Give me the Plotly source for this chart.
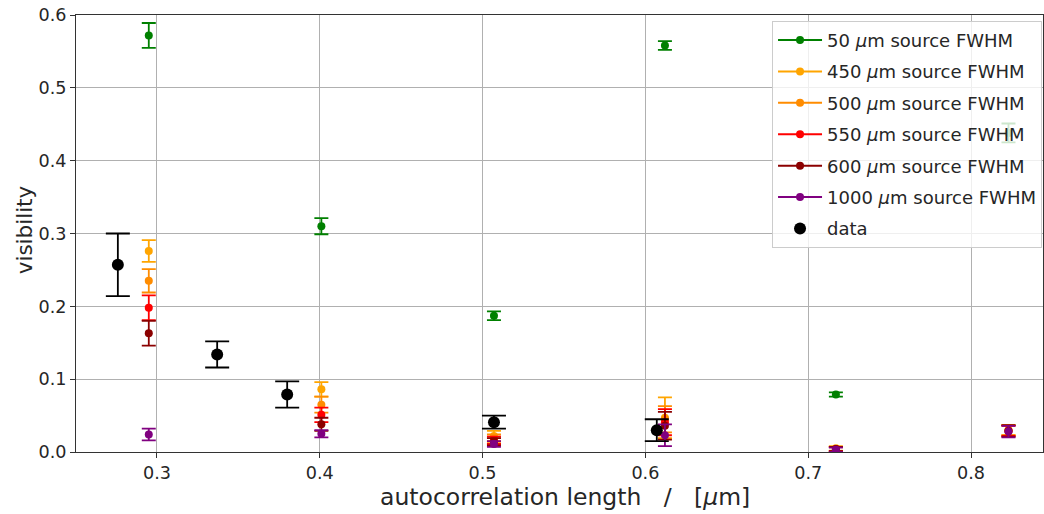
import plotly.graph_objects as go

# ---- data ----
sim_x = [0.295, 0.401, 0.507, 0.612, 0.717, 0.823]

series_names = ["50", "450", "500", "550", "600", "1000"]
series_colors = ["#008000", "#FFA500", "#FF8C00", "#FF0000", "#8B0000", "#800080"]

vis_50 = [0.572, 0.310, 0.187, 0.558, 0.079, 0.438]
err_50 = [0.017, 0.011, 0.006, 0.006, 0.003, 0.013]

vis_450 = [0.276, 0.086, 0.022, 0.047, 0.005, 0.030]
err_450 = [0.015, 0.010, 0.007, 0.028, 0.003, 0.007]

vis_500 = [0.235, 0.065, 0.018, 0.045, 0.004, 0.030]
err_500 = [0.016, 0.011, 0.006, 0.018, 0.003, 0.007]

vis_550 = [0.198, 0.051, 0.016, 0.041, 0.004, 0.029]
err_550 = [0.017, 0.010, 0.005, 0.018, 0.003, 0.007]

vis_600 = [0.163, 0.038, 0.014, 0.036, 0.004, 0.029]
err_600 = [0.017, 0.009, 0.005, 0.019, 0.003, 0.008]

vis_1000 = [0.024, 0.025, 0.011, 0.023, 0.003, 0.028]
err_1000 = [0.008, 0.005, 0.004, 0.015, 0.003, 0.008]

data_x = [0.276, 0.337, 0.380, 0.507, 0.607]
data_vis = [0.257, 0.134, 0.079, 0.041, 0.030]
data_err = [0.043, 0.018, 0.018, 0.009, 0.015]

sim_vis = [vis_50, vis_450, vis_500, vis_550, vis_600, vis_1000]
sim_err = [err_50, err_450, err_500, err_550, err_600, err_1000]

x_ticks = [0.3, 0.4, 0.5, 0.6, 0.7, 0.8]
y_ticks = [0.0, 0.1, 0.2, 0.3, 0.4, 0.5, 0.6]

x_title = "autocorrelation length \u00a0 / \u00a0 [<i>μ</i>m]"
y_title = "visibility"

FONT = "DejaVu Sans, sans-serif"
TXT = "#262626"

fig = go.Figure()

for i, (name, col, v, e) in enumerate(zip(series_names, series_colors, sim_vis, sim_err)):
    fig.add_trace(go.Scatter(
        x=sim_x, y=v, mode="markers",
        marker=dict(color=col, size=8),
        error_y=dict(type="data", array=e, visible=True, color=col, thickness=1.8, width=7),
        showlegend=False, hoverinfo="x+y",
    ))
    # legend entry
    fig.add_trace(go.Scatter(
        x=[None], y=[None], mode="lines+markers",
        marker=dict(color=col, size=8), line=dict(color=col, width=2),
        name=f"{name} <i>μ</i>m source FWHM", legendgroup=f"g{i}",
    ))

fig.add_trace(go.Scatter(
    x=data_x, y=data_vis, mode="markers",
    marker=dict(color="black", size=12),
    error_y=dict(type="data", array=data_err, visible=True, color="black", thickness=1.8, width=12),
    showlegend=False, hoverinfo="x+y",
))
fig.add_trace(go.Scatter(
    x=[None], y=[None], mode="markers",
    marker=dict(color="black", size=12),
    name="data", legendgroup="gdata",
))

fig.update_layout(
    width=1044, height=514,
    margin=dict(l=76, r=1, t=15, b=62, autoexpand=False),
    paper_bgcolor="white", plot_bgcolor="white",
    font=dict(family=FONT, color=TXT, size=17.6),
    legend=dict(
        x=0.999, y=0.9866, xanchor="right", yanchor="top",
        bgcolor="rgba(255,255,255,0.8)", bordercolor="#cccccc", borderwidth=1,
        font=dict(family=FONT, size=18, color=TXT),
        itemwidth=44, tracegroupgap=5, traceorder="grouped",
    ),
    xaxis=dict(
        range=[0.2503, 0.8442], tickvals=x_ticks, ticktext=[f"{t:.1f}" for t in x_ticks],
        showgrid=True, gridcolor="#b0b0b0", gridwidth=1, zeroline=False,
        showline=True, linecolor="#333333", linewidth=1, mirror=True,
        ticks="outside", ticklen=5, tickcolor="#333333", automargin=False,
        ticklabeloverflow="allow",
        tickfont=dict(size=17.6, family=FONT, color=TXT),
    ),
    yaxis=dict(
        range=[0, 0.6], tickvals=y_ticks, ticktext=[f"{t:.1f}" for t in y_ticks],
        showgrid=True, gridcolor="#b0b0b0", gridwidth=1, zeroline=False,
        showline=True, linecolor="#333333", linewidth=1, mirror=True,
        ticks="outside", ticklen=5, tickcolor="#333333", automargin=False,
        ticklabeloverflow="allow",
        tickfont=dict(size=17.6, family=FONT, color=TXT),
    ),
    annotations=[
        dict(text=x_title, xref="paper", yref="paper", x=0.506, y=-0.103,
             xanchor="center", yanchor="middle", showarrow=False,
             font=dict(size=23.5, family=FONT, color=TXT)),
        dict(text=y_title, xref="paper", yref="paper", x=-0.053, y=0.509,
             xanchor="center", yanchor="middle", showarrow=False, textangle=-90,
             font=dict(size=21.5, family=FONT, color=TXT)),
    ],
)

# remove the default page margin so the figure fills the window exactly
fig.write_html("out.html", config={"displayModeBar": False},
               post_script="document.body.style.margin='0';")
